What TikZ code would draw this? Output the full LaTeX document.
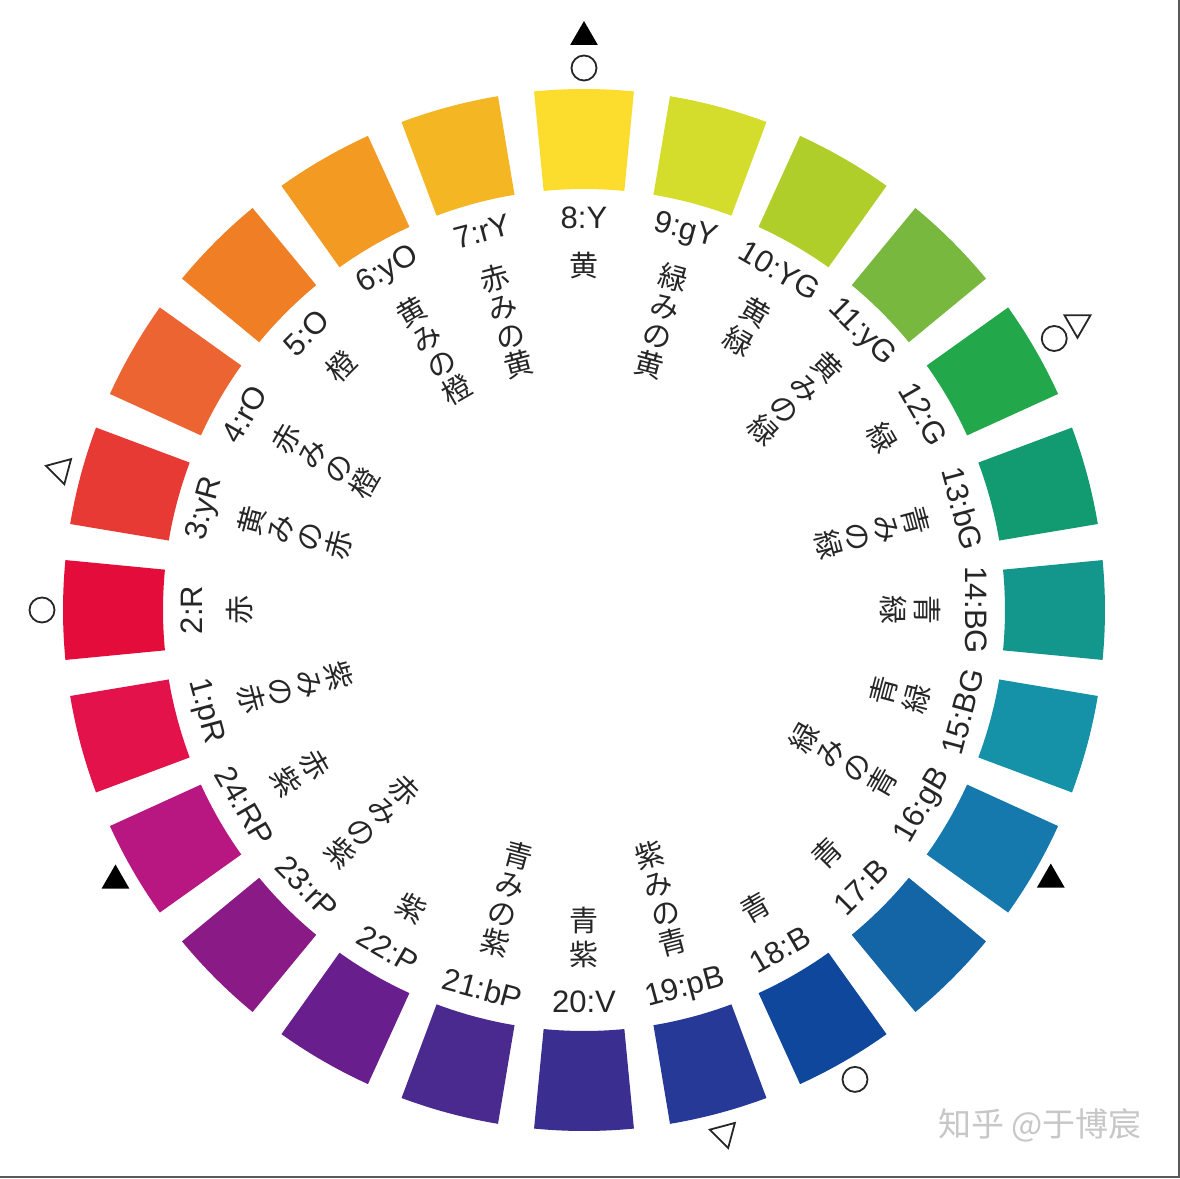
\documentclass[tikz,border=0pt]{standalone}
\usepackage{fontspec}
\setmainfont{Liberation Sans}
\newfontfamily\jpfont{Noto Sans CJK JP}
\newfontfamily\scfont{Noto Sans CJK SC}
\usetikzlibrary{shapes.geometric}
\definecolor{c1}{HTML}{E3124B}
\definecolor{c2}{HTML}{E40C3A}
\definecolor{c3}{HTML}{E73A35}
\definecolor{c4}{HTML}{EC6432}
\definecolor{c5}{HTML}{EF7E24}
\definecolor{c6}{HTML}{F29A22}
\definecolor{c7}{HTML}{F5B623}
\definecolor{c8}{HTML}{FCDD2D}
\definecolor{c9}{HTML}{D5DD2C}
\definecolor{c10}{HTML}{B0CE2A}
\definecolor{c11}{HTML}{78B83E}
\definecolor{c12}{HTML}{22A84A}
\definecolor{c13}{HTML}{129B70}
\definecolor{c14}{HTML}{13968B}
\definecolor{c15}{HTML}{1592A8}
\definecolor{c16}{HTML}{1679AE}
\definecolor{c17}{HTML}{1465A6}
\definecolor{c18}{HTML}{0F479D}
\definecolor{c19}{HTML}{263996}
\definecolor{c20}{HTML}{3A2E90}
\definecolor{c21}{HTML}{4B2A8F}
\definecolor{c22}{HTML}{681F8D}
\definecolor{c23}{HTML}{8A1B86}
\definecolor{c24}{HTML}{B81681}
\begin{document}
\begin{tikzpicture}[
  codelbl/.style={font=\fontsize{31}{31}\selectfont, inner sep=0pt, text=black!85},
  jplbl/.style={inner sep=0pt, text=black!85, align=center},
  ring/.style={circle, draw=black!85, line width=1.8pt, minimum size=25pt, inner sep=0pt},
  tri/.style={regular polygon, regular polygon sides=3, minimum size=32pt, inner sep=0pt},
  trifill/.style={tri, fill=black},
  triopen/.style={tri, draw=black!85, line width=1.8pt, minimum size=30pt},
]
\fill[white] (-584pt,-568pt) rectangle (596pt,610pt);
\useasboundingbox (-584pt,-568pt) rectangle (596pt,610pt);
% colour segments and labels
\foreach \i/\code/\n/\jp/\col in {
  1/1:pR/4/{紫\\み\\の\\赤}/c1,
  2/2:R/1/{赤}/c2,
  3/3:yR/4/{黄\\み\\の\\赤}/c3,
  4/4:rO/4/{赤\\み\\の\\橙}/c4,
  5/5:O/1/{橙}/c5,
  6/6:yO/4/{黄\\み\\の\\橙}/c6,
  7/7:rY/4/{赤\\み\\の\\黄}/c7,
  8/8:Y/1/{黄}/c8,
  9/9:gY/4/{緑\\み\\の\\黄}/c9,
  10/10:YG/2/{黄\\緑}/c10,
  11/11:yG/4/{黄\\み\\の\\緑}/c11,
  12/12:G/1/{緑}/c12,
  13/13:bG/4/{青\\み\\の\\緑}/c13,
  14/14:BG/2/{青\\緑}/c14,
  15/15:BG/2/{青\\緑}/c15,
  16/16:gB/4/{緑\\み\\の\\青}/c16,
  17/17:B/1/{青}/c17,
  18/18:B/1/{青}/c18,
  19/19:pB/4/{紫\\み\\の\\青}/c19,
  20/20:V/2/{青\\紫}/c20,
  21/21:bP/4/{青\\み\\の\\紫}/c21,
  22/22:P/1/{紫}/c22,
  23/23:rP/4/{赤\\み\\の\\紫}/c23,
  24/24:RP/2/{赤\\紫}/c24}{
  \pgfmathsetmacro{\th}{90-(\i-8)*15}
  \pgfmathsetmacro{\ta}{\th-5.5}
  \pgfmathsetmacro{\tb}{\th+5.5}
  \pgfmathsetmacro{\up}{(\i>1)*(\i<15)}
  \pgfmathsetmacro{\rot}{\th-90+180*(1-\up)}
  \pgfmathsetmacro{\pitch}{30+4*(\n==2)}
  \pgfmathsetmacro{\rr}{344-\pitch*(\n-1)/2}
  \fill[\col] (\ta:421pt) arc[start angle=\ta, end angle=\tb, radius=421pt]
     -- (\tb:521pt) arc[start angle=\tb, end angle=\ta, radius=521pt] -- cycle;
  \node[codelbl, rotate=\rot] (code-\i) at (\th:392pt) {\code};
  \node[jplbl, rotate=\rot, font=\jpfont\fontsize{29}{\pitch}\selectfont]
     (jp-\i) at (\th:\rr pt) {\jp};
}
% complementary markers
\node[ring] (m8a) at (90:542pt) {};
\node[trifill, rotate=0] (m8b) at (90:573pt) {};
\node[ring] (m12a) at (30:543pt) {};
\node[triopen, rotate=-60] (m12b) at (30.2:571pt) {};
\node[triopen, rotate=75] (m3) at (165:542pt) {};
\node[ring] (m2) at (180:542pt) {};
\node[trifill, rotate=120] (m24) at (210:541pt) {};
\node[trifill, rotate=-120] (m16) at (-30:539pt) {};
\node[ring] (m18) at (-60:542pt) {};
\node[triopen, rotate=-165] (m19) at (-75:542pt) {};
% watermark
\node[font=\scfont\fontsize{33}{33}\selectfont, text=black!22] (wm) at (456pt,-515pt) {知乎 @于博宸};
% frame edges
\draw[black!65, line width=2pt] (595pt,610pt) -- (595pt,-567pt) -- (-584pt,-567pt);
\end{tikzpicture}
\end{document}
